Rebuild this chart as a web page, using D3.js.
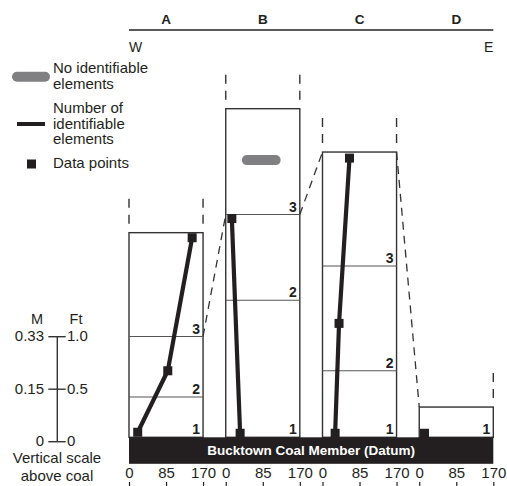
<!DOCTYPE html>
<html>
<head>
<meta charset="utf-8">
<script src="https://cdn.jsdelivr.net/npm/d3@7"></script>
<style>
  body { margin: 0; background: #fff; }
  svg { font-family: "Liberation Sans", Arial, Helvetica, sans-serif; }
</style>
</head>
<body>
<div id="chart"></div>
<script>
// sections, W to E
var columns = ["A", "B", "C", "D"];
// height of each measured section above the coal (ft)
var boxTops = [2.03, 3.26, 2.83, 0.30];
// zone boundaries inside each section (ft) -> zones 1, 2, 3
var zoneBounds = [[0.40, 1.0], [1.36, 2.21], [0.66, 1.70], []];
var zoneLabels = ["1", "2", "3"];

// data points: section, number of identifiable elements, height (ft)
var pointCol = ["A", "A", "A", "B", "B", "C", "C", "C", "D"];
var pointCount = [20, 89, 145, 33, 14, 29, 38, 62, 12];
var pointHeight = [0.05, 0.66, 1.98, 0.04, 2.17, 0.04, 1.13, 2.77, 0.04];

// interval with no identifiable elements
var noIdCol = ["B"];
var noIdFrom = [37];
var noIdTo = [126];
var noIdHeight = [2.75];

// correlation lines: [section, count, height] -> [section, count, height]
var linkFrom = [["A", 170, 1.0], ["B", 170, 2.21], ["C", 170, 2.83]];
var linkTo = [["B", 0, 2.21], ["C", 0, 2.83], ["D", 0, 0.30]];

var countTicks = [0, 85, 170];
var scaleFt = [0, 0.5, 1.0];
var scaleM = ["0", "0.15", "0.33"];
var scaleFtLabels = ["0", "0.5", "1.0"];

var W = 507, H = 486;
var INK = "#231f20";

var svg = d3.select("#chart").append("svg")
	.attr("width", W)
	.attr("height", H);

var xBand = d3.scaleBand()
	.domain(columns)
	.range([129, 493.3])
	.paddingInner(0.2345)
	.paddingOuter(0);

var xCount = d3.scaleLinear()
	.domain([0, 170])
	.range([0, xBand.bandwidth()]);

var y = d3.scaleLinear()
	.domain([0, 1])
	.range([437.3, 336.5]);

function px(col, v) { return xBand(col) + xCount(v); }

// header
svg.append("line")
	.attr("x1", xBand.range()[0]).attr("x2", xBand.range()[1])
	.attr("y1", 30).attr("y2", 30)
	.attr("stroke", "#58595b").attr("stroke-width", 2);

svg.selectAll(".col-label")
	.data(columns)
	.enter().append("text")
	.attr("class", "col-label")
	.attr("x", d => xBand(d) + xBand.bandwidth() / 2)
	.attr("y", 24)
	.attr("text-anchor", "middle")
	.attr("font-weight", "bold")
	.attr("font-size", 13.5)
	.attr("fill", INK)
	.text(d => d);

svg.append("text").attr("x", 129).attr("y", 51.5)
	.attr("font-size", 14).attr("fill", INK).text("W");
svg.append("text").attr("x", 493.3).attr("y", 51.5).attr("text-anchor", "end")
	.attr("font-size", 14).attr("fill", INK).text("E");

// dashed extensions above each section
var ext = [];
columns.forEach(function(c, i) {
	if (i > 0 && c === "D") {
		ext.push({ col: c, v: 170, top: boxTops[i] });
	} else {
		ext.push({ col: c, v: 0, top: boxTops[i] });
		ext.push({ col: c, v: 170, top: boxTops[i] });
	}
});
svg.selectAll(".ext")
	.data(ext)
	.enter().append("line")
	.attr("class", "ext")
	.attr("x1", d => px(d.col, d.v)).attr("x2", d => px(d.col, d.v))
	.attr("y1", d => y(d.top) - 34).attr("y2", d => y(d.top) - 8)
	.attr("stroke", "#333").attr("stroke-width", 1.4)
	.attr("stroke-dasharray", "9,7");

// correlation lines
svg.selectAll(".link")
	.data(linkFrom.map((f, i) => [f, linkTo[i]]))
	.enter().append("line")
	.attr("class", "link")
	.attr("x1", d => px(d[0][0], d[0][1])).attr("y1", d => y(d[0][2]))
	.attr("x2", d => px(d[1][0], d[1][1])).attr("y2", d => y(d[1][2]))
	.attr("stroke", "#333").attr("stroke-width", 1.3)
	.attr("stroke-dasharray", "8,6");

// section boxes
var boxes = svg.selectAll(".box")
	.data(columns)
	.enter().append("g")
	.attr("class", "box");

boxes.append("rect")
	.attr("x", d => xBand(d))
	.attr("y", (d, i) => y(boxTops[i]))
	.attr("width", xBand.bandwidth())
	.attr("height", (d, i) => y(0) - y(boxTops[i]))
	.attr("fill", "none")
	.attr("stroke", "#333")
	.attr("stroke-width", 1.4);

boxes.each(function(c, i) {
	var g = d3.select(this);
	var bounds = [0].concat(zoneBounds[i]);
	g.selectAll("line.zone")
		.data(zoneBounds[i])
		.enter().append("line")
		.attr("class", "zone")
		.attr("x1", xBand(c)).attr("x2", xBand(c) + xBand.bandwidth())
		.attr("y1", d => y(d)).attr("y2", d => y(d))
		.attr("stroke", "#555").attr("stroke-width", 1.1);
	g.selectAll("text.zone-label")
		.data(bounds)
		.enter().append("text")
		.attr("class", "zone-label")
		.attr("x", xBand(c) + xBand.bandwidth() - 3)
		.attr("y", d => y(d) - 3)
		.attr("text-anchor", "end")
		.attr("font-weight", "bold")
		.attr("font-size", 14)
		.attr("fill", INK)
		.text((d, j) => zoneLabels[j]);
});

// no identifiable elements
svg.selectAll(".noid")
	.data(noIdCol)
	.enter().append("line")
	.attr("class", "noid")
	.attr("x1", (d, i) => px(d, noIdFrom[i]) + 5)
	.attr("x2", (d, i) => px(d, noIdTo[i]) - 5)
	.attr("y1", (d, i) => y(noIdHeight[i]))
	.attr("y2", (d, i) => y(noIdHeight[i]))
	.attr("stroke", "#808083").attr("stroke-width", 10)
	.attr("stroke-linecap", "round");

// element count lines + points
var line = d3.line()
	.x(d => px(d.col, d.n))
	.y(d => y(d.h));

var points = pointCol.map((c, i) => ({ col: c, n: pointCount[i], h: pointHeight[i] }));
columns.forEach(function(c) {
	var pts = points.filter(p => p.col === c).sort((a, b) => a.h - b.h);
	if (pts.length > 1) {
		svg.append("path")
			.datum(pts)
			.attr("d", line)
			.attr("fill", "none")
			.attr("stroke", INK)
			.attr("stroke-width", 4.2);
	}
});

svg.selectAll(".pt")
	.data(points)
	.enter().append("rect")
	.attr("class", "pt")
	.attr("x", d => px(d.col, d.n) - 4.5)
	.attr("y", d => y(d.h) - 4.5)
	.attr("width", 9).attr("height", 9)
	.attr("fill", INK);

// coal datum
svg.append("rect")
	.attr("x", xBand.range()[0])
	.attr("y", y(0))
	.attr("width", xBand.range()[1] - xBand.range()[0])
	.attr("height", 26.5)
	.attr("fill", INK);
svg.append("text")
	.attr("x", (xBand.range()[0] + xBand.range()[1]) / 2)
	.attr("y", y(0) + 18)
	.attr("text-anchor", "middle")
	.attr("font-weight", "bold")
	.attr("font-size", 13.5)
	.attr("fill", "#fff")
	.text("Bucktown Coal Member (Datum)");

// count axes under each section
columns.forEach(function(c) {
	var ax = svg.append("g")
		.attr("transform", "translate(" + xBand(c) + ",487)")
		.call(d3.axisTop(xCount).tickValues(countTicks).tickSize(5).tickPadding(4).tickSizeOuter(0));
	ax.select(".domain").remove();
	ax.selectAll("line").attr("stroke", INK).attr("stroke-width", 1.2);
	ax.selectAll("text")
		.attr("font-family", null)
		.attr("font-size", 15)
		.attr("fill", INK);
});

// vertical scale bar
var ys = d3.scaleLinear().domain([0, 1]).range([441.7, 336.7]);
var sx = 57.3;
svg.append("line")
	.attr("x1", sx).attr("x2", sx)
	.attr("y1", ys(0)).attr("y2", ys(1))
	.attr("stroke", "#333").attr("stroke-width", 1.4);
svg.selectAll(".sc-tick")
	.data(scaleFt)
	.enter().append("line")
	.attr("class", "sc-tick")
	.attr("x1", (d, i) => i === 0 ? sx : 48.3)
	.attr("x2", 65.7)
	.attr("y1", d => ys(d)).attr("y2", d => ys(d))
	.attr("stroke", "#333").attr("stroke-width", 1.4);
svg.selectAll(".sc-tick0")
	.data([0])
	.enter().append("line")
	.attr("x1", 48.3).attr("x2", sx)
	.attr("y1", ys(0)).attr("y2", ys(0))
	.attr("stroke", "#333").attr("stroke-width", 1.4);
svg.selectAll(".sc-m")
	.data(scaleFt)
	.enter().append("text")
	.attr("x", 44).attr("y", d => ys(d) + 4.5)
	.attr("text-anchor", "end")
	.attr("font-size", 15).attr("fill", INK)
	.text((d, i) => scaleM[i]);
svg.selectAll(".sc-ft")
	.data(scaleFt)
	.enter().append("text")
	.attr("x", 67).attr("y", d => ys(d) + 4.5)
	.attr("font-size", 15).attr("fill", INK)
	.text((d, i) => scaleFtLabels[i]);
svg.append("text").attr("x", 37).attr("y", 324).attr("text-anchor", "middle")
	.attr("font-size", 14.5).attr("fill", INK).text("M");
svg.append("text").attr("x", 76).attr("y", 324).attr("text-anchor", "middle")
	.attr("font-size", 14.5).attr("fill", INK).text("Ft");
svg.append("text").attr("x", 57).attr("y", 463).attr("text-anchor", "middle")
	.attr("font-size", 15).attr("fill", INK).text("Vertical scale");
svg.append("text").attr("x", 57).attr("y", 481).attr("text-anchor", "middle")
	.attr("font-size", 15).attr("fill", INK).text("above coal");

// legend
var legend = svg.append("g").attr("font-size", 15).attr("fill", INK);
legend.append("line")
	.attr("x1", 17).attr("x2", 45).attr("y1", 76.7).attr("y2", 76.7)
	.attr("stroke", "#808083").attr("stroke-width", 10).attr("stroke-linecap", "round");
legend.append("line")
	.attr("x1", 17).attr("x2", 45).attr("y1", 124).attr("y2", 124)
	.attr("stroke", INK).attr("stroke-width", 4);
legend.append("rect")
	.attr("x", 27).attr("y", 159.5).attr("width", 9).attr("height", 9)
	.attr("fill", INK);
var legendText = [
	[["No identifiable", "elements"], 73],
	[["Number of", "identifiable", "elements"], 113],
	[["Data points"], 168]
];
legendText.forEach(function(t) {
	var txt = legend.append("text").attr("x", 53).attr("y", t[1]);
	t[0].forEach(function(s, i) {
		txt.append("tspan").attr("x", 53).attr("y", t[1] + i * 15.5).text(s);
	});
});
</script>
</body>
</html>
